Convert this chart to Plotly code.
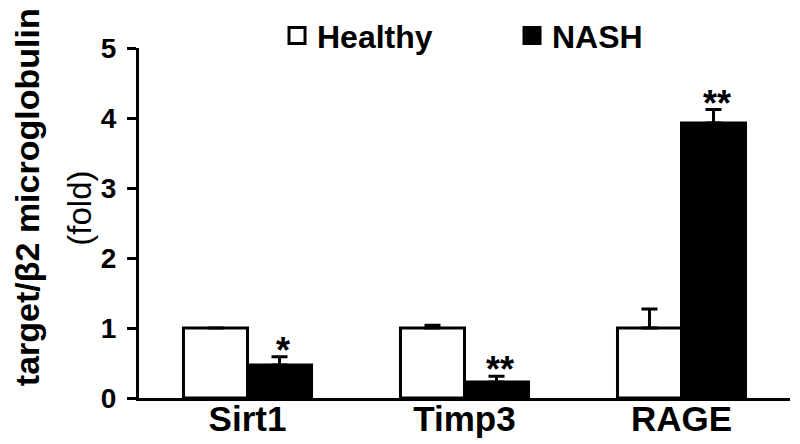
import plotly.graph_objects as go

categories = ["Sirt1", "Timp3", "RAGE"]
healthy = [1.0, 1.0, 1.0]
healthy_err = [0.0, 0.04, 0.27]
nash = [0.47, 0.23, 3.93]
nash_err = [0.12, 0.08, 0.19]
signif = ["*", "**", "**"]
y_ticks = [0, 1, 2, 3, 4, 5]

FONT = "Liberation Sans, Arial, sans-serif"

fig = go.Figure()
fig.add_trace(go.Bar(
    x=categories, y=healthy, name="Healthy",
    marker=dict(color="white", line=dict(color="black", width=3)),
    error_y=dict(type="data", array=healthy_err, arrayminus=[0, 0, 0], symmetric=False,
                 color="black", thickness=3, width=8),
    showlegend=False,
))
fig.add_trace(go.Bar(
    x=categories, y=nash, name="NASH",
    marker=dict(color="black", line=dict(color="black", width=3)),
    error_y=dict(type="data", array=nash_err, arrayminus=[0, 0, 0], symmetric=False,
                 color="black", thickness=3, width=8),
    showlegend=False,
))
# legend entries
fig.add_trace(go.Scatter(x=[None], y=[None], mode="markers", name="Healthy",
                         marker=dict(symbol="square", size=18, color="white",
                                     line=dict(color="black", width=3))))
fig.add_trace(go.Scatter(x=[None], y=[None], mode="markers", name="NASH",
                         marker=dict(symbol="square", size=18, color="black",
                                     line=dict(color="black", width=3))))

for c, v, e, s in zip(categories, nash, nash_err, signif):
    fig.add_annotation(x=c, y=v + e, text=f"<b>{s}</b>", showarrow=False,
                       xref="x", yref="y", xshift=35, yanchor="bottom", yshift=-16,
                       font=dict(family=FONT, size=36, color="black"))

fig.add_annotation(text="<b>target/β2 microglobulin</b>", textangle=-90,
                   xref="paper", yref="paper", x=-0.172, y=0.574,
                   xanchor="center", yanchor="middle",
                   showarrow=False, font=dict(family=FONT, size=34, color="black"))
fig.add_annotation(text="(fold)", textangle=-90,
                   xref="paper", yref="paper", x=-0.091, y=0.543,
                   xanchor="center", yanchor="middle",
                   showarrow=False, font=dict(family=FONT, size=33, color="black"))

fig.update_layout(
    width=800, height=444,
    margin=dict(l=139, r=10, t=48, b=46, autoexpand=False),
    paper_bgcolor="white", plot_bgcolor="white",
    barmode="group", bargap=0.41, bargroupgap=0,
    font=dict(family=FONT, color="black"),
    legend=dict(orientation="h", x=0.212, y=1.035, xanchor="left", yanchor="middle",
                font=dict(family=FONT, size=32, color="black", weight="bold"),
                entrywidth=190, itemsizing="trace", bgcolor="rgba(0,0,0,0)"),
    xaxis=dict(showline=True, linecolor="black", linewidth=3, ticks="",
               tickfont=dict(family=FONT, size=35, color="black", weight="bold"),
               ticklabelstandoff=-12,
               range=[-0.5, 2.5], showgrid=False, zeroline=False, automargin=False),
    yaxis=dict(range=[0, 5], tickvals=y_ticks, showline=True, linecolor="black",
               linewidth=3, ticks="outside", ticklen=9, tickwidth=3, tickcolor="black",
               tickfont=dict(family=FONT, size=28, color="black", weight="bold"),
               ticklabelstandoff=5, showgrid=False, zeroline=False, automargin=False),
)

fig.write_html("out.html", config={"displayModeBar": False},
               post_script="document.body.style.margin='0';")
